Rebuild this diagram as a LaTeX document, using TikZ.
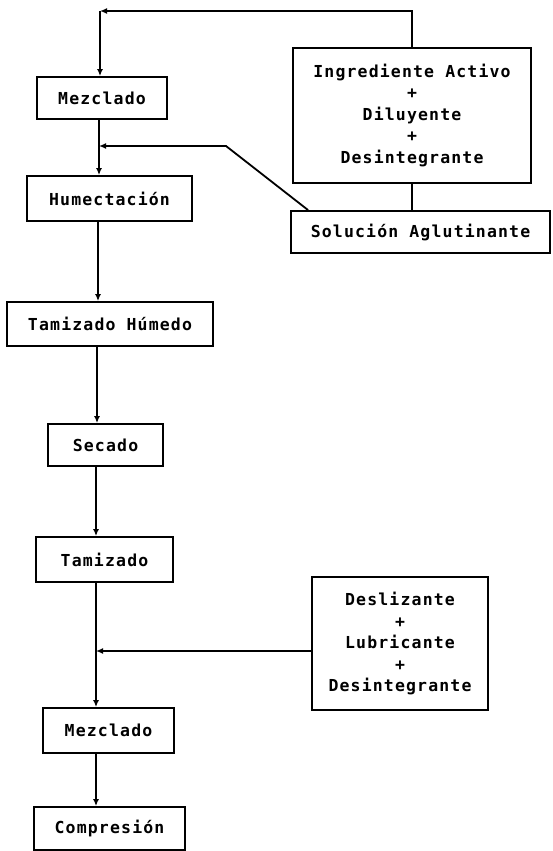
\documentclass[tikz,border=0pt]{standalone}
\usepackage{fontspec}
\usepackage{tikz}
\usetikzlibrary{calc,positioning,arrows.meta}
\newfontfamily\maquina[LetterSpace=7]{DejaVu Sans Mono}

\begin{document}
\begin{tikzpicture}[
  x=1pt, y=-1pt,
  paso/.style 2 args={draw, line width=1.8pt, inner sep=0pt, minimum width=#1, minimum height=#2, align=center, font=\maquina\bfseries\fontsize{16.5}{21.5}\selectfont},
  flujo/.style={line width=1.8pt, -{Latex[length=7pt,width=6pt]}},
  linea/.style={line width=1.8pt}
]
  \useasboundingbox (0,0) rectangle (553,851);

  \node[paso={130pt}{42pt}] (mez1) at (102,98) {Mezclado};
  \node[paso={238pt}{135pt}] (ingr) at (412,115.5) {Ingrediente Activo\\+\\Diluyente\\+\\Desintegrante};
  \node[paso={165pt}{45pt}] (hum) at (109.5,198.5) {Humectación};
  \node[paso={259pt}{42pt}] (sol) at (420.5,232) {Solución Aglutinante};
  \node[paso={206pt}{44pt}] (tamh) at (110,324) {Tamizado Húmedo};
  \node[paso={115pt}{42pt}] (sec) at (105.5,445) {Secado};
  \node[paso={137pt}{45pt}] (tam) at (104.5,559.5) {Tamizado};
  \node[paso={176pt}{133pt}] (desl) at (400,643.5) {Deslizante\\+\\Lubricante\\+\\Desintegrante};
  \node[paso={131pt}{45pt}] (mez2) at (108.5,730.5) {Mezclado};
  \node[paso={151pt}{43pt}] (comp) at (109.5,828.5) {Compresión};

  \coordinate (arriba) at (100,11);
  \coordinate (j1) at (99,146);
  \coordinate (codo) at (226,146);
  \coordinate (s1) at ([xshift=18pt]sol.north west);
  \coordinate (j2) at (96,651);

  \draw[flujo] (ingr.north) |- (arriba);
  \draw[flujo] (arriba) -- (arriba |- mez1.north);
  \draw[flujo] (mez1.south -| j1) -- (hum.north -| j1);
  \draw[linea] (ingr.south) -- (ingr.south |- sol.north);
  \draw[flujo] (s1) -- (codo) -- (j1);
  \draw[flujo] ([xshift=-1pt]hum.south -| j1) -- ([xshift=-1pt]tamh.north -| j1);
  \draw[flujo] ([xshift=-2pt]tamh.south -| j1) -- ([xshift=-2pt]sec.north -| j1);
  \draw[flujo] (sec.south -| j2) -- (tam.north -| j2);
  \draw[flujo] (tam.south -| j2) -- (mez2.north -| j2);
  \draw[flujo] (desl.west |- j2) -- (j2);
  \draw[flujo] (mez2.south -| j2) -- (comp.north -| j2);
\end{tikzpicture}
\end{document}
